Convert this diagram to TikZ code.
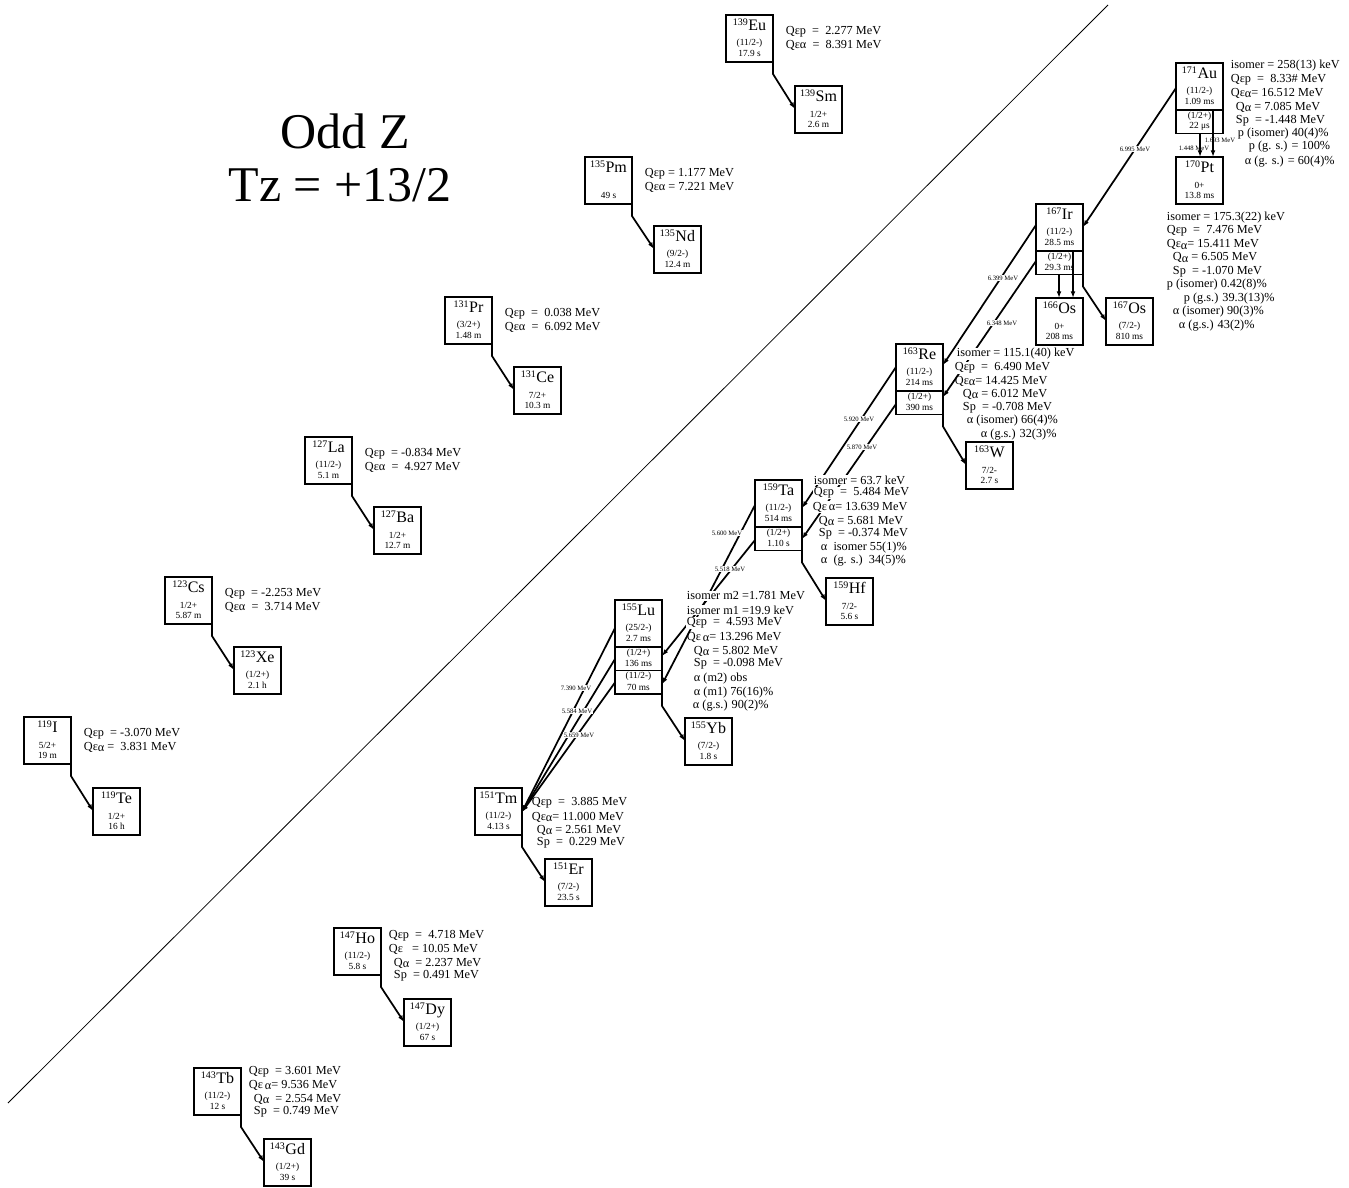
\documentclass[tikz,border=0pt]{standalone}
\usepackage{fontspec}
\setmainfont{Liberation Serif}
\usetikzlibrary{calc,arrows.meta}
\newcommand\iso[2]{{\fontsize{7.5}{8}\selectfont\raisebox{3.8pt}{#1}}\kern0.4pt#2}
\newcommand\qa{Q\raisebox{-1.3pt}{α}}
\newcommand\qea{Qε\raisebox{-1.3pt}{α}}
\tikzset{
 nbox/.style={draw, line width=1.3pt, minimum width=35.25pt, minimum height=35.25pt, inner sep=0pt, outer sep=0pt, anchor=north west},
 sbox/.style={draw, line width=1.3pt, minimum width=35.25pt, minimum height=17.6pt, inner sep=0pt, outer sep=0pt, anchor=north},
 elab/.style={inner sep=0pt, anchor=base, font=\fontsize{12}{12}\selectfont},
 small/.style={inner sep=0pt, font=\fontsize{7}{7}\selectfont},
 info/.style={inner sep=0.5pt, anchor=west, font=\fontsize{9.2}{10}\selectfont},
 winfo/.style={info, fill=white},
 tiny/.style={inner sep=0.4pt, font=\fontsize{5}{5}\selectfont},
 wtiny/.style={tiny, fill=white},
 conn/.style={line width=1.3pt, -{Latex[length=5pt,width=3.6pt]}},
 title/.style={font=\fontsize{37.5}{40}\selectfont, inner sep=0pt},
}
\newcommand\nuc[7]{%
 \node[nbox] (#1) at (#2,#3) {};
 \node[elab] (#1-l) at ($(#1.north)+(0,15.5)$) {\iso{#4}{#5}};
 \node[small] (#1-s) at ($(#1.north)+(0,28.5)$) {#6};
 \node[small] (#1-h) at ($(#1.north)+(0,38.5)$) {#7};
}
\newcommand\nsub[4]{%
 \node[sbox] (#1) at (#2.south) {};
 \node[small] (#1-s) at ($(#1.north)+(0,6)$) {#3};
 \node[small] (#1-h) at ($(#1.north)+(0,16.5)$) {#4};
}
\newcommand\bdecay[2]{\draw[conn] (#1.south east) -- ++(0,12) -- ($(#2.north west)+(0,23)$);}
\newcommand\qpair[3]{%
 \node[info] (#1-q1) at ($(#1.north east)+(12,17)$) {#2};
 \node[info] (#1-q2) at ($(#1.north east)+(12,30)$) {#3};
}
\begin{document}
\begin{tikzpicture}[x=0.75pt,y=-0.75pt]
\useasboundingbox (0,0) rectangle (1349,1188);
\coordinate (d1) at (8,1103);
\coordinate (d2) at (1108,5);
\draw[line width=0.6pt] (d1) -- (d2);
\node[title] (t1) at (345,131) {Odd Z};
\node[title] (t2) at (340,185) {Tz = +13/2};
% left chain
\nuc{Eu}{726}{15}{139}{Eu}{(11/2-)}{17.9 s}
\nuc{Sm}{795}{86}{139}{Sm}{1/2+}{2.6 m}
\nuc{Pm}{585}{157}{135}{Pm}{}{49 s}
\nuc{Nd}{654}{226}{135}{Nd}{(9/2-)}{12.4 m}
\nuc{Pr}{445}{297}{131}{Pr}{(3/2+)}{1.48 m}
\nuc{Ce}{514}{367}{131}{Ce}{7/2+}{10.3 m}
\nuc{La}{305}{437}{127}{La}{(11/2-)}{5.1 m}
\nuc{Ba}{374}{507}{127}{Ba}{1/2+}{12.7 m}
\nuc{Cs}{165}{577}{123}{Cs}{1/2+}{5.87 m}
\nuc{Xe}{234}{647}{123}{Xe}{(1/2+)}{2.1 h}
\nuc{I}{24}{717}{119}{I}{5/2+}{19 m}
\nuc{Te}{93}{788}{119}{Te}{1/2+}{16 h}
% right chain
\nuc{Tb}{194}{1068}{143}{Tb}{(11/2-)}{12 s}
\nuc{Gd}{264}{1139}{143}{Gd}{(1/2+)}{39 s}
\nuc{Ho}{334}{928}{147}{Ho}{(11/2-)}{5.8 s}
\nuc{Dy}{404}{999}{147}{Dy}{(1/2+)}{67 s}
\nuc{Tm}{475}{788}{151}{Tm}{(11/2-)}{4.13 s}
\nuc{Er}{545}{859}{151}{Er}{(7/2-)}{23.5 s}
\nuc{Lu}{615}{600}{155}{Lu}{(25/2-)}{2.7 ms}
\nsub{Lu-1}{Lu}{(1/2+)}{136 ms}
\nsub{Lu-2}{Lu-1}{(11/2-)}{70 ms}
\nuc{Yb}{685}{718}{155}{Yb}{(7/2-)}{1.8 s}
\nuc{Ta}{755}{480}{159}{Ta}{(11/2-)}{514 ms}
\nsub{Ta-i}{Ta}{(1/2+)}{1.10 s}
\nuc{Hf}{826}{578}{159}{Hf}{7/2-}{5.6 s}
\nuc{Re}{896}{344}{163}{Re}{(11/2-)}{214 ms}
\nsub{Re-i}{Re}{(1/2+)}{390 ms}
\nuc{W}{966}{442}{163}{W}{7/2-}{2.7 s}
\nuc{Ir}{1036}{204}{167}{Ir}{(11/2-)}{28.5 ms}
\nsub{Ir-i}{Ir}{(1/2+)}{29.3 ms}
\nuc{OsA}{1036}{298}{166}{Os}{0+}{208 ms}
\nuc{OsB}{1106}{298}{167}{Os}{(7/2-)}{810 ms}
\nuc{Au}{1176}{63}{171}{Au}{(11/2-)}{1.09 ms}
\nsub{Au-i}{Au}{(1/2+)}{22 μs}
\nuc{Pt}{1176}{157}{170}{Pt}{0+}{13.8 ms}
% beta / EC decays
\bdecay{Eu}{Sm}
\bdecay{Pm}{Nd}
\bdecay{Pr}{Ce}
\bdecay{La}{Ba}
\bdecay{Cs}{Xe}
\bdecay{I}{Te}
\bdecay{Tb}{Gd}
\bdecay{Ho}{Dy}
\bdecay{Tm}{Er}
\bdecay{Lu-2}{Yb}
\bdecay{Ta-i}{Hf}
\bdecay{Re-i}{W}
\bdecay{Ir-i}{OsB}
% alpha and proton decays
\draw[conn] ($(Au.north west)+(0,25)$) -- ($(Ir.north east)+(0,23)$);
\draw[conn] ($(Au.south west)+(37,0)$) -- ($(Pt.north west)+(37,0)$);
\draw[conn] ($(Au-i.south west)+(24,0)$) -- ($(Pt.north west)+(24,0)$);
\draw[conn] ($(Ir.south west)+(37,0)$) -- ($(OsA.north west)+(37,0)$);
\draw[conn] ($(Ir-i.south west)+(23,0)$) -- ($(OsA.north west)+(23,0)$);
\draw[conn] ($(Ir.north west)+(0,21)$) -- ($(Re.north east)+(0,21)$);
\draw[conn] ($(Ir-i.north west)+(0,10)$) -- ($(Re-i.north east)+(0,6)$);
\draw[conn] ($(Re.north west)+(0,23)$) -- ($(Ta.north east)+(0,28)$);
\draw[conn] ($(Re-i.north west)+(0,13)$) -- ($(Ta-i.north east)+(0,12)$);
\draw[conn] ($(Ta.north west)+(0,25)$) -- ($(Lu-2.north east)+(0,14)$);
\draw[conn] ($(Ta-i.north west)+(0,13)$) -- ($(Lu-1.north east)+(0,9)$);
\draw[conn] ($(Lu.north west)+(0,28)$) -- ($(Tm.north east)+(0,24)$);
\draw[conn] ($(Lu-1.north west)+(0,12)$) -- ($(Tm.north east)+(0,24)$);
\draw[conn] ($(Lu-2.north west)+(0,12)$) -- ($(Tm.north east)+(0,24)$);
% line labels
\node[wtiny] (e1) at (1135,149) {6.995 MeV};
\node[tiny] (e2) at (1194,148) {1.448 MeV};
\node[tiny] (e3) at (1220,140) {1.693 MeV};
\node[wtiny] (e4) at (1003,278) {6.399 MeV};
\node[wtiny] (e5) at (1002,323) {6.348 MeV};
\node[wtiny] (e6) at (859,419) {5.920 MeV};
\node[wtiny] (e7) at (862,447) {5.870 MeV};
\node[wtiny] (e8) at (727,533) {5.600 MeV};
\node[wtiny] (e9) at (730,569) {5.518 MeV};
\node[wtiny] (e10) at (576,688) {7.390 MeV};
\node[wtiny] (e11) at (577,711) {5.584 MeV};
\node[wtiny] (e12) at (579,735) {5.659 MeV};
% left chain texts
\qpair{Eu}{Qεp~~=~~2.277 MeV}{Qεα~~=~~8.391 MeV}
\qpair{Pm}{Qεp~= 1.177 MeV}{Qεα~= 7.221 MeV}
\qpair{Pr}{Qεp~~=~~0.038 MeV}{Qεα~~=~~6.092 MeV}
\qpair{La}{Qεp~~= -0.834 MeV}{Qεα~~=~~4.927 MeV}
\qpair{Cs}{Qεp~~= -2.253 MeV}{Qεα~~=~~3.714 MeV}
\qpair{I}{Qεp~~= -3.070 MeV}{\qea~=~~3.831 MeV}
% Tb
\node[info] (Tb1) at (248,1072) {Qεp~~= 3.601 MeV};
\node[info] (Tb2) at (248,1085) {Qε\,\raisebox{-1.3pt}{α}= 9.536 MeV};
\node[info] (Tb3) at (253,1099) {\qa~~= 2.554 MeV};
\node[info] (Tb4) at (253,1112) {Sp~~= 0.749 MeV};
% Ho
\node[info] (Ho1) at (388,936) {Qεp~~=~~4.718 MeV};
\node[info] (Ho2) at (388,949) {Qε~~~= 10.05 MeV};
\node[info] (Ho3) at (393,963) {\qa~~= 2.237 MeV};
\node[info] (Ho4) at (393,976) {Sp~~= 0.491 MeV};
% Tm
\node[info] (Tm1) at (531,803) {Qεp~~=~~3.885 MeV};
\node[info] (Tm2) at (531,817) {\qea= 11.000 MeV};
\node[info] (Tm3) at (536,830) {\qa~= 2.561 MeV};
\node[info] (Tm4) at (536,843) {Sp~~=~~0.229 MeV};
% Lu
\node[winfo] (Lu1) at (686,596) {isomer m2 =1.781 MeV};
\node[winfo] (Lu2) at (686,610) {isomer m1 =19.9 keV};
\node[winfo] (Lu3) at (686,623) {Qεp~~=~~4.593 MeV};
\node[info] (Lu4) at (686,637) {Qε\,\raisebox{-1.3pt}{α}= 13.296 MeV};
\node[info] (Lu5) at (693,651) {\qa~= 5.802 MeV};
\node[info] (Lu6) at (693,664) {Sp~~= -0.098 MeV};
\node[info] (Lu7) at (693,679) {α (m2) obs};
\node[info] (Lu8) at (693,693) {α (m1) 76(16)\%};
\node[info] (Lu9) at (692,706) {α (g.s.) 90(2)\%};
% Ta
\node[winfo] (Ta1) at (813,480) {isomer = 63.7 keV};
\node[winfo] (Ta2) at (813,493) {Qεp~~=~~5.484 MeV};
\node[winfo] (Ta3) at (812,507) {Qε\,α= 13.639 MeV};
\node[info] (Ta4) at (818,521) {\qa~= 5.681 MeV};
\node[info] (Ta5) at (818,534) {Sp~~= -0.374 MeV};
\node[info] (Ta6) at (820,548) {α~~isomer 55(1)\%};
\node[info] (Ta7) at (820,561) {α~~(g. s.)~~34(5)\%};
% Re
\node[winfo] (Re1) at (956,354) {isomer = 115.1(40) keV};
\node[winfo] (Re2) at (954,368) {Qεp~~=~~6.490 MeV};
\node[info] (Re3) at (954,381) {\qea= 14.425 MeV};
\node[info] (Re4) at (962,394) {\qa~= 6.012 MeV};
\node[info] (Re5) at (962,408) {Sp~~= -0.708 MeV};
\node[info] (Re6) at (966,421) {α (isomer) 66(4)\%};
\node[info] (Re7) at (980,435) {α (g.s.) 32(3)\%};
% Ir
\node[info] (Ir1) at (1166,217.5) {isomer = 175.3(22) keV};
\node[info] (Ir2) at (1166,231) {Qεp~~=~~7.476 MeV};
\node[info] (Ir3) at (1166,244.4) {\qea= 15.411 MeV};
\node[info] (Ir4) at (1172,257.9) {\qa~= 6.505 MeV};
\node[info] (Ir5) at (1172,271.3) {Sp~~= -1.070 MeV};
\node[info] (Ir6) at (1166,284.8) {p (isomer) 0.42(8)\%};
\node[info] (Ir7) at (1183,298.2) {p (g.s.) 39.3(13)\%};
\node[info] (Ir8) at (1172,311.7) {α (isomer) 90(3)\%};
\node[info] (Ir9) at (1178,325.1) {α (g.s.) 43(2)\%};
% Au
\node[info] (Au1) at (1230,66) {isomer = 258(13) keV};
\node[info] (Au2) at (1230,80) {Qεp~~=~~8.33\# MeV};
\node[info] (Au3) at (1230,93) {\qea= 16.512 MeV};
\node[info] (Au4) at (1235,107) {\qa~= 7.085 MeV};
\node[info] (Au5) at (1235,121) {Sp~~= -1.448 MeV};
\node[info] (Au6) at (1237,134) {p (isomer) 40(4)\%};
\node[info] (Au7) at (1248,147) {p (g. s.) = 100\%};
\node[info] (Au8) at (1244,162) {α (g. s.) = 60(4)\%};
\end{tikzpicture}
\end{document}
